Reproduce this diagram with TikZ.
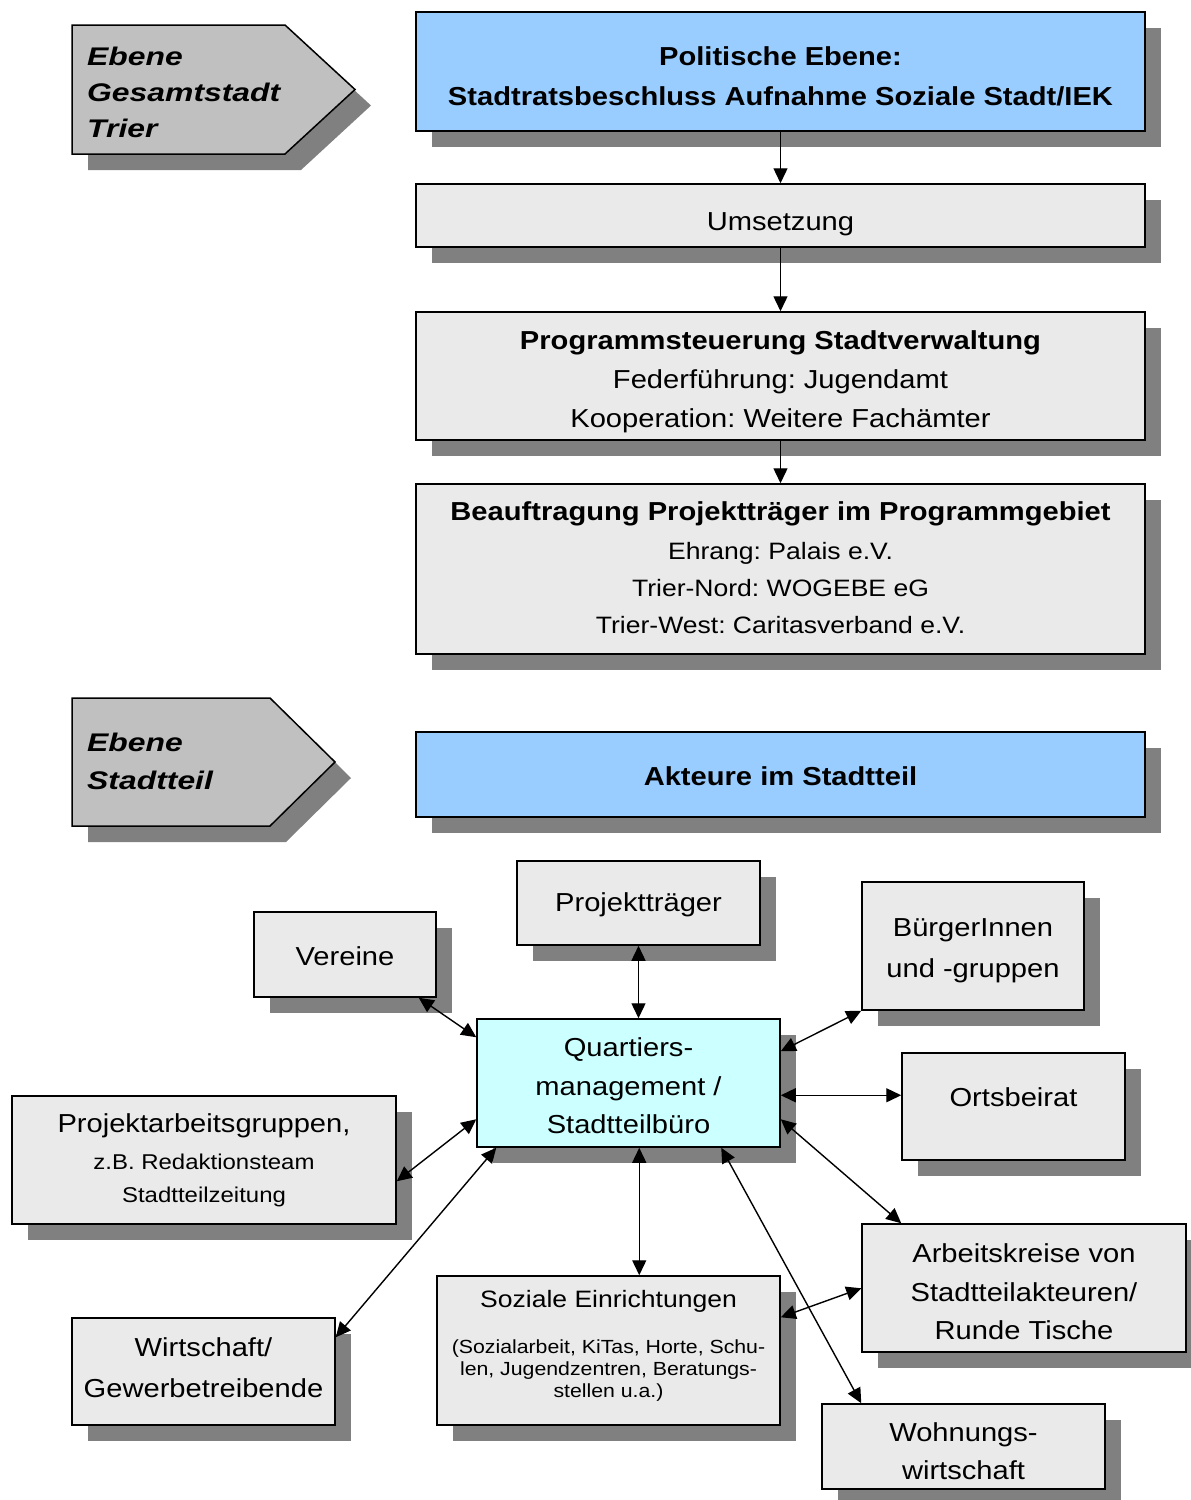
\documentclass[tikz,border=0pt]{standalone}
\usepackage{fontspec}
\setmainfont{Liberation Sans}[FakeStretch=1.12]
\newfontfamily\ebenefont{Liberation Sans}[FakeStretch=1.25]
\usetikzlibrary{arrows.meta,shadows,calc}
\definecolor{shgray}{HTML}{808080}
\definecolor{boxgray}{HTML}{EAEAEA}
\definecolor{pentgray}{HTML}{C0C0C0}
\definecolor{blue1}{HTML}{99CCFF}
\definecolor{cyan1}{HTML}{CCFFFF}
\frenchspacing
\newcommand\topstrut[1]{\rule{0pt}{#1pt}}
\begin{document}
\begin{tikzpicture}[x=1pt,y=-1pt,
  box/.style={draw=black, line width=1.5pt, fill=boxgray, inner sep=0pt, align=center,
    drop shadow={shadow xshift=16pt, shadow yshift=-16pt, fill=shgray, opacity=1},
    font=\fontsize{26}{39}\selectfont},
  dn/.style={execute at begin node={\rule{0pt}{#1pt}}},
  upw/.style={execute at end node={\rule[-#1pt]{0pt}{#1pt}}},
  ebene/.style={anchor=north west, inner sep=0pt, align=left,
    font=\ebenefont\bfseries\itshape\fontsize{25.5}{36}\selectfont},
  pent/.style={draw=black, line width=1.5pt, fill=pentgray},
  pentshadow/.style={fill=shgray},
  arr/.style={line width=1.4pt, -{Triangle[length=15pt,width=14pt]}},
  biarr/.style={line width=1.4pt, {Triangle[length=15pt,width=14pt]}-{Triangle[length=15pt,width=14pt]}}
]
\useasboundingbox (0,0) rectangle (1191,1500);

% level pentagons
\fill[pentshadow, xshift=16pt, yshift=-16pt] (72,25) -- (285,25) -- (355,89.5) -- (285,154) -- (72,154) -- cycle;
\draw[pent] (72,25) -- (285,25) -- (355,89.5) -- (285,154) -- (72,154) -- cycle;
\node[ebene] (eb1) at (87,46.4) {Ebene\\Gesamtstadt\\Trier};

\fill[pentshadow, xshift=16pt, yshift=-16pt] (72,698) -- (270,698) -- (335,762) -- (270,826) -- (72,826) -- cycle;
\draw[pent] (72,698) -- (270,698) -- (335,762) -- (270,826) -- (72,826) -- cycle;
\node[ebene, font=\ebenefont\bfseries\itshape\fontsize{25.5}{38}\selectfont] (eb2) at (87,732.4) {Ebene\\Stadtteil};

% upper chain
\node[box, fill=blue1, minimum width=729, minimum height=119,
  font=\bfseries\fontsize{26}{40}\selectfont] (pol) at (780.5,71.5)
  {\topstrut{29}Politische Ebene:\\Stadtratsbeschluss Aufnahme Soziale Stadt/IEK};
\node[box, dn=35, minimum width=729, minimum height=63] (ums) at (780.5,215.5) {Umsetzung};
\node[box, minimum width=729, minimum height=128] (prog) at (780.5,376)
  {\topstrut{31}\textbf{Programmsteuerung Stadtverwaltung}\\Federführung: Jugendamt\\Kooperation: Weitere Fachämter};
\node[box, upw=3, minimum width=729, minimum height=170] (bea) at (780.5,569)
  {\textbf{Beauftragung Projektträger im Programmgebiet}\\
   {\fontsize{23.7}{37}\selectfont Ehrang: Palais e.V.}\\[-2pt]
   {\fontsize{23.7}{37}\selectfont Trier-Nord: WOGEBE eG}\\[-2pt]
   {\fontsize{23.7}{37}\selectfont Trier-West: Caritasverband e.V.}};
\node[box, dn=23, fill=blue1, minimum width=729, minimum height=85, font=\bfseries\fontsize{26}{39}\selectfont]
  (akt) at (780.5,774.5) {Akteure im Stadtteil};

% lower network
\node[box, dn=23, minimum width=243, minimum height=84] (proj) at (638.5,903) {Projektträger};
\node[box, dn=23, minimum width=182, minimum height=85] (ver) at (345,954.5) {Vereine};
\node[box, minimum width=222, minimum height=128, font=\fontsize{26}{41}\selectfont] (bue) at (973,946)
  {\topstrut{27}BürgerInnen\\und -gruppen};
\node[box, fill=cyan1, minimum width=303, minimum height=128, font=\fontsize{26}{38.5}\selectfont] (qm) at (628.5,1083)
  {\topstrut{25}Quartiers-\\management /\\Stadtteilbüro};
\node[box, minimum width=223, minimum height=107, text depth=19pt] (ort) at (1013.5,1106.5) {Ortsbeirat};
\node[box, minimum width=384, minimum height=128, font=\fontsize{21.4}{33}\selectfont] (paw) at (204,1160)
  {{\fontsize{26}{39}\selectfont Projektarbeitsgruppen,}\\[4pt]z.B. Redaktionsteam\\Stadtteilzeitung};
\node[box, minimum width=324, minimum height=128, font=\fontsize{26}{38.5}\selectfont] (ak) at (1024,1288)
  {\topstrut{27}Arbeitskreise von\\Stadtteilakteuren/\\Runde Tische};
\node[box, upw=13, minimum width=343, minimum height=149, font=\fontsize{19}{22}\selectfont] (soz) at (608.5,1350.5)
  {{\fontsize{23.7}{28}\selectfont Soziale Einrichtungen}\\[24pt]
   (Sozialarbeit, KiTas, Horte, Schu-\\len, Jugendzentren, Beratungs-\\stellen u.a.)};
\node[box, upw=8, minimum width=263, minimum height=107, font=\fontsize{26}{41}\selectfont] (wir) at (203.5,1371.5)
  {Wirtschaft/\\Gewerbetreibende};
\node[box, minimum width=283, minimum height=85, font=\fontsize{26}{38}\selectfont] (woh) at (963.5,1446.5)
  {\topstrut{29}Wohnungs-\\wirtschaft};

% connectors upper
\draw[arr] (pol) -- (ums);
\draw[arr] (ums) -- (prog);
\draw[arr] (prog) -- (bea);

% connectors lower
\draw[biarr] (proj.south) -- (proj.south |- qm.north);
\draw[biarr] ($(ver.south east)+(-18,0)$) -- ($(qm.north west)+(0,19)$);
\draw[biarr] (bue.south west) -- ($(qm.north east)+(0,33)$);
\draw[biarr] ($(ort.north west)+(0,43)$) -- ($(qm.north east)+(0,77)$);
\draw[biarr] ($(qm.north east)+(0,101)$) -- ($(ak.north west)+(40,0)$);
\draw[biarr] ($(qm.south west)+(163,0)$) -- ($(soz.north west)+(203,0)$);
\draw[biarr] ($(qm.south west)+(245,0)$) -- ($(woh.north west)+(40,0)$);
\draw[biarr] ($(ak.north west)+(0,65)$) -- ($(soz.north east)+(0,42)$);
\draw[biarr] ($(qm.north west)+(0,101)$) -- ($(paw.north east)+(0,86)$);
\draw[biarr] ($(qm.south west)+(20,0)$) -- ($(wir.north east)+(0,20)$);
\end{tikzpicture}
\end{document}
